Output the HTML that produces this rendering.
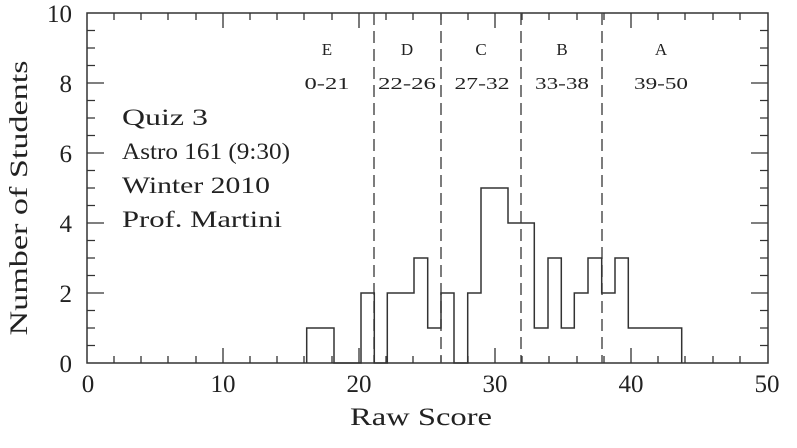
<!DOCTYPE html>
<html><head><meta charset="utf-8"><style>
html,body{margin:0;padding:0;background:#fff;}
svg{display:block;}
text{font-family:"Liberation Serif","DejaVu Serif",serif;fill:#222;}
</style></head><body>
<svg width="797" height="448" viewBox="0 0 797 448" xmlns="http://www.w3.org/2000/svg">
<g stroke="#333" stroke-width="1.5" fill="none">
<rect x="87" y="13" width="681" height="350"/>
</g>
<g stroke="#333" stroke-width="1.3">
<path d="M223 363v-15M359 363v-15M495 363v-15M631 363v-15
M114 363v-7M141 363v-7M168 363v-7M196 363v-7M250 363v-7M277 363v-7M304 363v-7M332 363v-7M386 363v-7M413 363v-7M441 363v-7M468 363v-7M522 363v-7M549 363v-7M577 363v-7M604 363v-7M658 363v-7M685 363v-7M713 363v-7M740 363v-7"/>
<path d="M223 13v15M359 13v15M495 13v15M631 13v15
M114 13v7M141 13v7M168 13v7M196 13v7M250 13v7M277 13v7M304 13v7M332 13v7M386 13v7M413 13v7M441 13v7M468 13v7M522 13v7M549 13v7M577 13v7M604 13v7M658 13v7M685 13v7M713 13v7M740 13v7"/>
<path d="M87 83h17M87 153h17M87 223h17M87 293h17
M87 30.5h8M87 48h8M87 65.5h8M87 100.5h8M87 118h8M87 135.5h8M87 170.5h8M87 188h8M87 205.5h8M87 240.5h8M87 258h8M87 275.5h8M87 310.5h8M87 328h8M87 345.5h8"/>
<path d="M768 83h-17M768 153h-17M768 223h-17M768 293h-17
M768 30.5h-8M768 48h-8M768 65.5h-8M768 100.5h-8M768 118h-8M768 135.5h-8M768 170.5h-8M768 188h-8M768 205.5h-8M768 240.5h-8M768 258h-8M768 275.5h-8M768 310.5h-8M768 328h-8M768 345.5h-8"/>
</g>
<g stroke="#444" stroke-width="1.4" stroke-dasharray="12,6">
<path d="M374 13V363M441 13V363M521 13V363M602 13V363"/>
</g>
<path fill="none" stroke="#333" stroke-width="1.5" d="M306.7 363V328H334V363H361V293H374.3V363H387.3V293H414V258H427.7V328H441V293H454V363H467.7V293H481V188H508V223H534.3V328H548V258H561.3V328H574.3V293H588V258H601.7V293H615V258H628.3V328H681.7V363"/>
<g font-size="25" text-anchor="middle">
<text x="88" y="392">0</text><text x="223" y="392">10</text><text x="359" y="392">20</text><text x="495" y="392">30</text><text x="631" y="392">40</text><text x="767" y="392">50</text>
</g>
<g font-size="25" text-anchor="end">
<text x="72" y="372">0</text><text x="72" y="302">2</text><text x="72" y="232">4</text><text x="72" y="162">6</text><text x="72" y="92">8</text><text x="72" y="22">10</text>
</g>
<g font-size="23" lengthAdjust="spacingAndGlyphs">
<text x="122" y="125" textLength="86" lengthAdjust="spacingAndGlyphs">Quiz 3</text>
<text x="122" y="159" textLength="168" lengthAdjust="spacingAndGlyphs">Astro 161 (9:30)</text>
<text x="122" y="193" textLength="148" lengthAdjust="spacingAndGlyphs">Winter 2010</text>
<text x="122" y="227" textLength="160" lengthAdjust="spacingAndGlyphs">Prof. Martini</text>
</g>
<g font-size="17" text-anchor="middle">
<text x="327" y="55">E</text><text x="407" y="55">D</text><text x="481" y="55">C</text><text x="562" y="55">B</text><text x="661" y="55">A</text>
<text x="327" y="89" textLength="45" lengthAdjust="spacingAndGlyphs">0-21</text>
<text x="407" y="89" textLength="58" lengthAdjust="spacingAndGlyphs">22-26</text>
<text x="482" y="89" textLength="55" lengthAdjust="spacingAndGlyphs">27-32</text>
<text x="562" y="89" textLength="54" lengthAdjust="spacingAndGlyphs">33-38</text>
<text x="661" y="89" textLength="54" lengthAdjust="spacingAndGlyphs">39-50</text>
</g>
<text x="350" y="425" font-size="25" textLength="142" lengthAdjust="spacingAndGlyphs">Raw Score</text>
<text transform="translate(27,198) rotate(-90)" font-size="25" text-anchor="middle" textLength="275" lengthAdjust="spacingAndGlyphs">Number of Students</text>
</svg>
</body></html>
